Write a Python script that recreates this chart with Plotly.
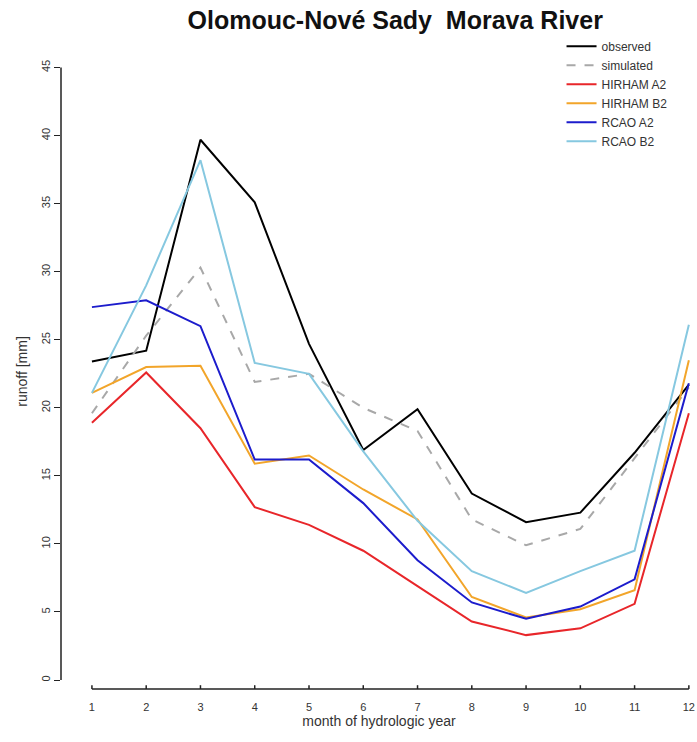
import plotly.graph_objects as go

months = list(range(1, 13))
observed = [23.4, 24.2, 39.7, 35.1, 24.7, 16.9, 19.9, 13.7, 11.6, 12.3, 16.7, 21.7]
simulated = [19.6, 25.3, 30.3, 21.9, 22.5, 20.0, 18.3, 11.8, 9.9, 11.1, 16.3, 21.5]
hirham_a2 = [18.9, 22.6, 18.5, 12.7, 11.4, 9.5, 6.9, 4.3, 3.3, 3.8, 5.6, 19.6]
hirham_b2 = [21.1, 23.0, 23.1, 15.9, 16.5, 14.0, 11.8, 6.1, 4.6, 5.2, 6.6, 23.5]
rcao_a2 = [27.4, 27.9, 26.0, 16.2, 16.2, 13.0, 8.8, 5.7, 4.5, 5.4, 7.4, 21.8]
rcao_b2 = [21.1, 29.0, 38.2, 23.3, 22.5, 16.8, 11.7, 8.0, 6.4, 8.0, 9.5, 26.1]

x_ticks = list(range(1, 13))
y_ticks = list(range(0, 50, 5))

series = [
    ("observed", observed, "#000000", "solid"),
    ("simulated", simulated, "#a8a8a8", "dash"),
    ("HIRHAM A2", hirham_a2, "#e8262a", "solid"),
    ("HIRHAM B2", hirham_b2, "#f2a52a", "solid"),
    ("RCAO A2", rcao_a2, "#1c1ccc", "solid"),
    ("RCAO B2", rcao_b2, "#86c8e0", "solid"),
]

fig = go.Figure()
for name, vals, color, dash in series:
    fig.add_trace(go.Scatter(x=months, y=vals, mode="lines", name=name,
                             line=dict(color=color, width=2, dash=dash)))

font_family = "Liberation Sans, Arial, sans-serif"

fig.update_layout(
    width=697, height=742,
    margin=dict(l=61, r=0, t=54, b=53),
    paper_bgcolor="white", plot_bgcolor="white",
    font=dict(family=font_family, color="#222222", size=11),
    title=dict(text="<b>Olomouc-Nové Sady  Morava River</b>", x=0.567, xanchor="center",
               y=0.973, yanchor="middle", font=dict(size=25, color="#111111", family=font_family)),
    showlegend=True,
    legend=dict(x=0.787, y=1.035, xanchor="left", yanchor="top", bgcolor="rgba(0,0,0,0)",
                font=dict(size=12, color="#333333", family=font_family),
                tracegroupgap=0, itemwidth=30),
    xaxis=dict(range=[0.43, 12.15], tickmode="array", tickvals=x_ticks,
               ticktext=[str(v) for v in x_ticks],
               showgrid=False, zeroline=False, showline=False,
               ticks="outside", ticklen=8, tickcolor="rgba(0,0,0,0)",
               tickfont=dict(size=11, color="#333333"),
               title=dict(text="month of hydrologic year", standoff=2,
                          font=dict(size=14, color="#333333"))),
    yaxis=dict(range=[-0.66, 46], tickmode="array", tickvals=y_ticks,
               ticktext=[str(v) for v in y_ticks], tickangle=-90,
               showgrid=False, zeroline=False, showline=False,
               ticks="outside", ticklen=6, tickcolor="#222222",
               tickfont=dict(size=11, color="#333333"),
               title=dict(text="runoff [mm]", standoff=8,
                          font=dict(size=14, color="#333333"))),
)

# R-style detached axis lines spanning only the tick range
fig.add_shape(type="line", xref="paper", yref="y", x0=0, x1=0,
              y0=min(y_ticks), y1=max(y_ticks), line=dict(color="#222222", width=1.5))
fig.add_shape(type="line", xref="x", yref="paper", x0=min(x_ticks), x1=max(x_ticks),
              y0=0, y1=0, line=dict(color="#222222", width=1.5))
# small tick marks on the x axis line
for t in x_ticks:
    fig.add_shape(type="line", xref="x", yref="paper", x0=t, x1=t, y0=0, y1=0.006,
                  line=dict(color="#222222", width=1.5))

fig.write_html("out.html")
